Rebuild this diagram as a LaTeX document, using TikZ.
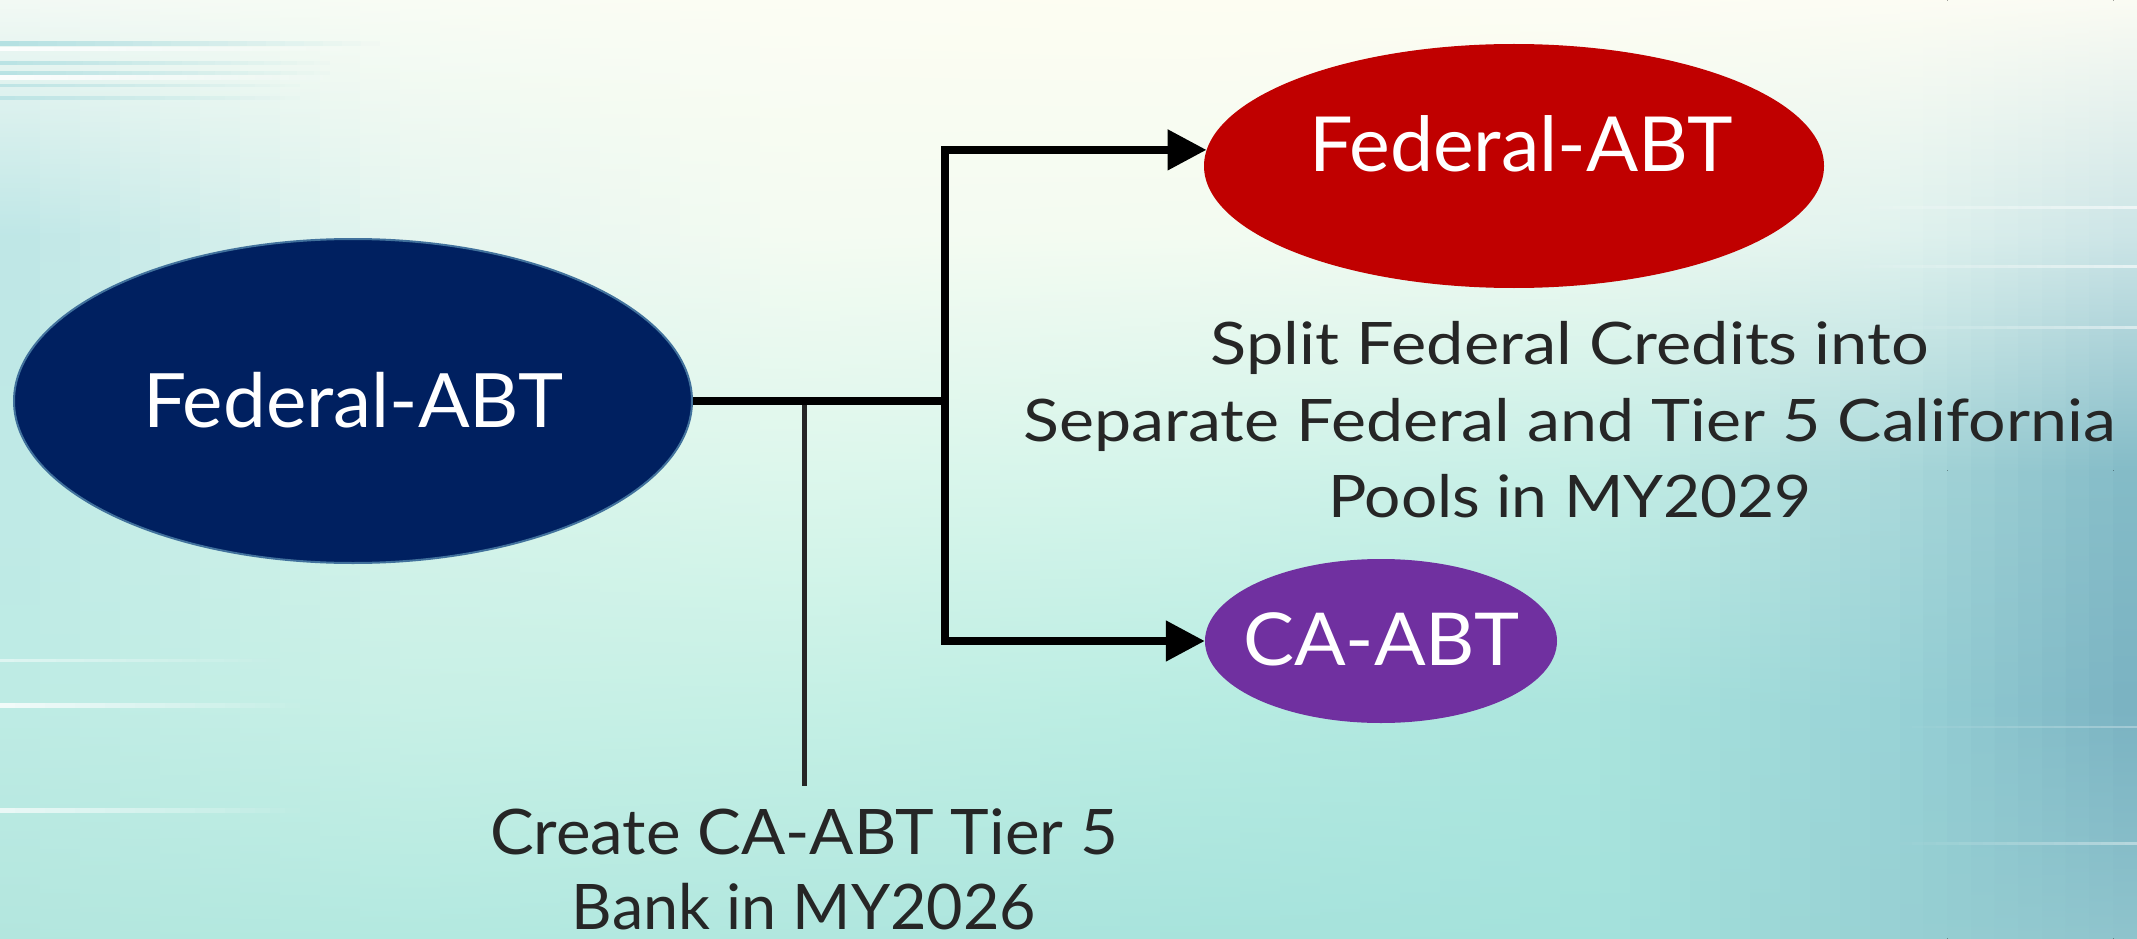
\documentclass[tikz,border=0pt]{standalone}
\usepackage{fontspec}
\setmainfont{Lato}
\usetikzlibrary{arrows.meta,shapes.geometric}
% background colour grid: rows y=0,235,470,705,939 ; cols x=0,400,800,1200,1600,1900,2137
\definecolor{g00}{HTML}{F2F9F4}\definecolor{g01}{HTML}{F8FCF4}\definecolor{g02}{HTML}{FCFDF3}\definecolor{g03}{HTML}{FDFDF2}\definecolor{g04}{HTML}{FDFDF3}\definecolor{g05}{HTML}{FCFCF3}\definecolor{g06}{HTML}{FAFBF3}
\definecolor{g10}{HTML}{BDE6E6}\definecolor{g11}{HTML}{E4F5EF}\definecolor{g12}{HTML}{F4FBF2}\definecolor{g13}{HTML}{F3FBF1}\definecolor{g14}{HTML}{EDF9F0}\definecolor{g15}{HTML}{E0F2EE}\definecolor{g16}{HTML}{CBE4E6}
\definecolor{g20}{HTML}{BEE9E6}\definecolor{g21}{HTML}{D5F3EA}\definecolor{g22}{HTML}{DDF7EC}\definecolor{g23}{HTML}{D3F4EA}\definecolor{g24}{HTML}{C5EEE6}\definecolor{g25}{HTML}{A9D8DA}\definecolor{g26}{HTML}{82BAC6}
\definecolor{g30}{HTML}{BDEBE4}\definecolor{g31}{HTML}{C8F0E6}\definecolor{g32}{HTML}{C5F0E5}\definecolor{g33}{HTML}{B8ECE2}\definecolor{g34}{HTML}{AAE4DD}\definecolor{g35}{HTML}{98D2D6}\definecolor{g36}{HTML}{79B1C1}
\definecolor{g40}{HTML}{B3E6DE}\definecolor{g41}{HTML}{B3E9E0}\definecolor{g42}{HTML}{B1E7DF}\definecolor{g43}{HTML}{A7E3DC}\definecolor{g44}{HTML}{A4E2DC}\definecolor{g45}{HTML}{97D0D3}\definecolor{g46}{HTML}{8EC3CC}
\definecolor{navyfill}{HTML}{002060}
\definecolor{navyedge}{HTML}{41719C}
\definecolor{redfill}{HTML}{C00000}
\definecolor{purplefill}{HTML}{7030A0}
\definecolor{darktext}{HTML}{262626}
\definecolor{streakcyan}{HTML}{A9DCDF}
% label inside an ellipse: size, width, baseline below centre, text
\newcommand\ellabel[4]{\makebox[0pt]{\raisebox{-#3}[0pt][0pt]{\resizebox{#2}{\height}{\fontsize{#1}{#1}\selectfont #4}}}}
\newcommand\fitline[2]{\resizebox{#1}{\height}{#2}}
\newcommand\hstreak[6]{% y, x-start (opaque), x-end (faded), colour, width, max opacity
  \foreach \i in {0,...,19}{
    \pgfmathsetmacro\sa{#2+(#3-#2)*\i/20}
    \pgfmathsetmacro\sb{#2+(#3-#2)*(\i+1)/20}
    \pgfmathsetmacro\so{#6*(1-\i/20)}
    \draw[#4, line width=#5, opacity=\so] (\sa,#1) -- (\sb,#1);
  }}
\tikzset{
  ell/.style={ellipse, inner sep=0pt, text=white},
  conn/.style={line width=8pt, black, line join=miter},
  arr/.style={conn, -{Triangle[length=39pt,width=39pt]}},
  thinconn/.style={line width=5pt, darktext},
  txt/.style={text=darktext, align=center, inner sep=0pt}
}
\begin{document}
\begin{tikzpicture}[x=1pt,y=-1pt]
\useasboundingbox (0,0) rectangle (2137,939);
% background
\foreach \c/\cn/\xa/\xb in {0/1/0/400,1/2/400/800,2/3/800/1200,3/4/1200/1600,4/5/1600/1900,5/6/1900/2137}{
  \foreach \i in {0,...,9}{
    \pgfmathtruncatemacro\p{100-10*\i-5}
    \pgfmathsetmacro\xl{\xa+(\xb-\xa)*\i/10}
    \pgfmathsetmacro\xr{\xa+(\xb-\xa)*(\i+1)/10+1}
    \colorlet{sA}{g0\c!\p!g0\cn}
    \colorlet{sB}{g1\c!\p!g1\cn}
    \colorlet{sC}{g2\c!\p!g2\cn}
    \colorlet{sD}{g3\c!\p!g3\cn}
    \colorlet{sE}{g4\c!\p!g4\cn}
    \fill[top color=sA, bottom color=sC, middle color=sB] (\xl,0) rectangle (\xr,471);
    \fill[top color=sC, bottom color=sE, middle color=sD] (\xl,470) rectangle (\xr,939);
  }
}
% streaks
\hstreak{44}{0}{380}{streakcyan}{5pt}{0.8}
\hstreak{49}{0}{360}{white}{4pt}{0.9}
\hstreak{63}{0}{330}{streakcyan}{4pt}{0.7}
\hstreak{73}{0}{330}{streakcyan}{4pt}{0.7}
\hstreak{78}{0}{340}{white}{5pt}{0.9}
\hstreak{86}{0}{300}{streakcyan}{3pt}{0.6}
\hstreak{98}{0}{300}{streakcyan}{4pt}{0.6}
\hstreak{660}{0}{280}{white}{3pt}{0.5}
\hstreak{705}{0}{300}{white}{5pt}{0.8}
\hstreak{810}{0}{300}{white}{5pt}{0.7}
\hstreak{207}{2137}{1850}{white}{3pt}{0.6}
\hstreak{266}{2137}{1850}{white}{3pt}{0.6}
\hstreak{327}{2137}{1900}{white}{3pt}{0.5}
\hstreak{727}{2137}{1900}{white}{2pt}{0.3}
\hstreak{843}{2137}{1900}{white}{3pt}{0.4}
% nodes
\node[ell, fill=navyfill, draw=navyedge, line width=2pt, minimum width=678pt, minimum height=324pt] (fed) at (353,401) {\ellabel{75}{420pt}{26pt}{Federal-ABT}};
\node[ell, fill=redfill, minimum width=620pt, minimum height=244pt] (fed2) at (1514,166) {\hspace{14pt}\ellabel{76}{424pt}{6pt}{Federal-ABT}};
\node[ell, fill=purplefill, minimum width=352pt, minimum height=164pt] (ca) at (1381,641) {\ellabel{73}{276pt}{24pt}{CA-ABT}};
\node[txt, font=\fontsize{58.6}{76.5}\selectfont] (split) at (1570,420) {\fitline{718pt}{Split Federal Credits into}\\\fitline{1092pt}{Separate Federal and Tier 5 California}\\\fitline{484pt}{Pools in MY2029}};
\node[txt, font=\fontsize{62.8}{75}\selectfont] (bank) at (804,869) {\fitline{628pt}{Create CA-ABT Tier 5}\\\fitline{464pt}{Bank in MY2026}};
% connectors
\coordinate (j) at (945,401);
\coordinate (tap) at (804,401);
\coordinate (tapend) at (804,786);
\draw[thinconn] (tap) -- (tapend);
\draw[conn] (fed.east) -- (j);
\draw[arr] (j) |- (fed2.177.6);
\draw[arr] (j) |- (ca.west);
\end{tikzpicture}
\end{document}
